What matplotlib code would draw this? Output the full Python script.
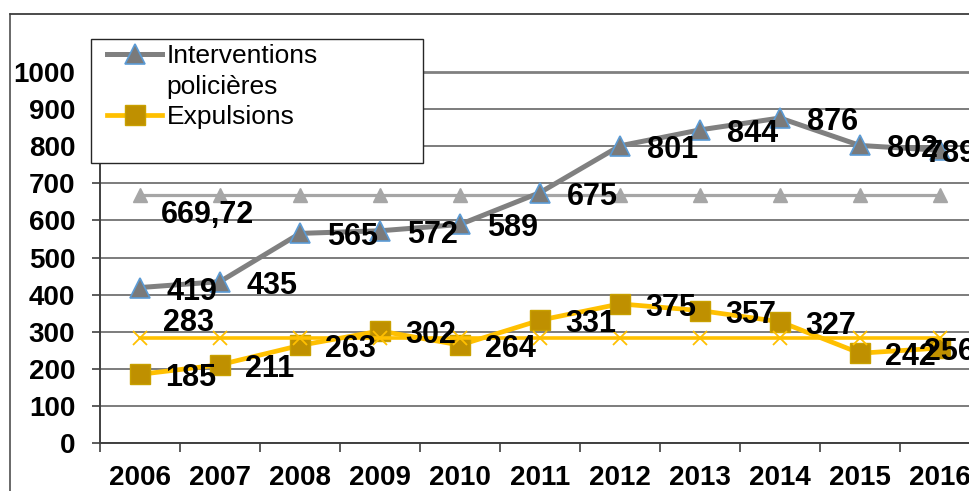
import matplotlib
matplotlib.use("Agg")
import matplotlib.pyplot as plt
from matplotlib.lines import Line2D
from matplotlib.patches import Rectangle

plt.rcParams['font.family'] = ['Liberation Sans', 'DejaVu Sans']

years = ['2006', '2007', '2008', '2009', '2010', '2011',
         '2012', '2013', '2014', '2015', '2016']
interventions = [419, 435, 565, 572, 589, 675, 801, 844, 876, 802, 789]
expulsions = [185, 211, 263, 302, 264, 331, 375, 357, 327, 242, 256]
moy_interventions = [669.72] * 11
moy_expulsions = [283] * 11
lbl_moy_interventions = '669,72'
lbl_moy_expulsions = '283'

W, H = 970, 491
fig = plt.figure(figsize=(W / 100, H / 100), dpi=100)
ax = fig.add_axes([100 / W, (H - 443) / H, 880 / W, (443 - 72) / H])

x = list(range(len(years)))

GRAY = '#808080'
GOLD = '#FFC000'

# moyennes
ax.plot(x, moy_interventions, color='#A6A6A6', lw=2.3, marker='^', ms=10,
        mfc='#A6A6A6', mec='#A6A6A6', zorder=2)
ax.plot(x, interventions, color=GRAY, lw=3.6, marker='^', ms=14,
        mfc='#7A7A7A', mec='#5B9BD5', mew=1.2, zorder=3)
ax.plot(x, expulsions, color=GOLD, lw=3.4, marker='s', ms=14,
        mfc='#BF9000', mec='#C9A000', mew=1, zorder=3)
ax.plot(x, moy_expulsions, color=GOLD, lw=2.6, marker='x', ms=10,
        mec=GOLD, mew=1.3, zorder=3.5)

lab_font = dict(fontsize=22, fontweight='bold', color='black')
for i, (a, b) in enumerate(zip(interventions, expulsions)):
    dx = 27 if i < len(years) - 1 else -14
    ax.annotate(str(a), (i, a), xytext=(dx, -12), textcoords='offset pixels',
                ha='left', va='baseline', zorder=6, **lab_font)
    ax.annotate(str(b), (i, b), xytext=(dx - 2, -12), textcoords='offset pixels',
                ha='left', va='baseline', zorder=6, **lab_font)
ax.annotate(lbl_moy_interventions, (0, moy_interventions[0]), xytext=(21, -28),
            textcoords='offset pixels', ha='left', va='baseline', zorder=6, **lab_font)
ax.annotate(lbl_moy_expulsions, (0, moy_expulsions[0]), xytext=(23, 7),
            textcoords='offset pixels', ha='left', va='baseline', zorder=6, **lab_font)

ax.set_xlim(-0.5, len(years) - 0.5)
ax.set_ylim(0, 1000)
ax.set_yticks(range(0, 1001, 100))
ax.set_xticks(x)
ax.set_xticklabels(years)
ax.set_xticks([i - 0.5 for i in range(len(years) + 1)], minor=True)
ax.tick_params(axis='x', which='major', length=0, pad=16, labelsize=20)
ax.tick_params(axis='x', which='minor', length=6.2, width=1.2, color='#404040', direction='out')
ax.tick_params(axis='y', length=5.8, width=1.2, color='#404040', pad=12, labelsize=20)
for lab in ax.get_xticklabels() + ax.get_yticklabels():
    lab.set_fontweight('bold')

ax.yaxis.grid(True, color='#595959', lw=1.1)
ax.set_axisbelow(True)
ax.spines['right'].set_visible(False)
ax.spines['top'].set_color(GRAY)
ax.spines['top'].set_linewidth(2)
ax.spines['left'].set_color('#404040')
ax.spines['left'].set_linewidth(1.4)
ax.spines['bottom'].set_color('#404040')
ax.spines['bottom'].set_linewidth(1.4)

# cadre du graphique
fig.add_artist(Line2D([10 / W, 1], [1 - 14 / H] * 2, color='#1a1a1a', lw=1.1))
fig.add_artist(Line2D([10 / W, 10 / W], [0, 1 - 14 / H], color='#404040', lw=1.1))

# légende
ax.add_patch(Rectangle((91 / W, 1 - 163 / H), (423 - 91) / W, (163 - 39) / H,
                       transform=fig.transFigure, clip_on=False, fc='white',
                       ec='#262626', lw=1, zorder=4))
h1 = Line2D([], [], color=GRAY, lw=3.6, marker='^', ms=14, mfc='#7A7A7A',
            mec='#5B9BD5', mew=1.2)
h_blank = Line2D([], [], lw=0)
h2 = Line2D([], [], color=GOLD, lw=3.4, marker='s', ms=14, mfc='#BF9000',
            mec='#C9A000', mew=1)
leg = ax.legend([h1, h_blank, h2], ['Interventions', 'policières', 'Expulsions'],
                loc='upper left', bbox_to_anchor=(107 / W, 1 - 44 / H),
                bbox_transform=fig.transFigure, frameon=False, fontsize=19,
                borderpad=0, borderaxespad=0, handlelength=2.1,
                handletextpad=0.16, labelspacing=0.25)
leg.set_zorder(5)

fig.savefig('out.png', dpi=100)
